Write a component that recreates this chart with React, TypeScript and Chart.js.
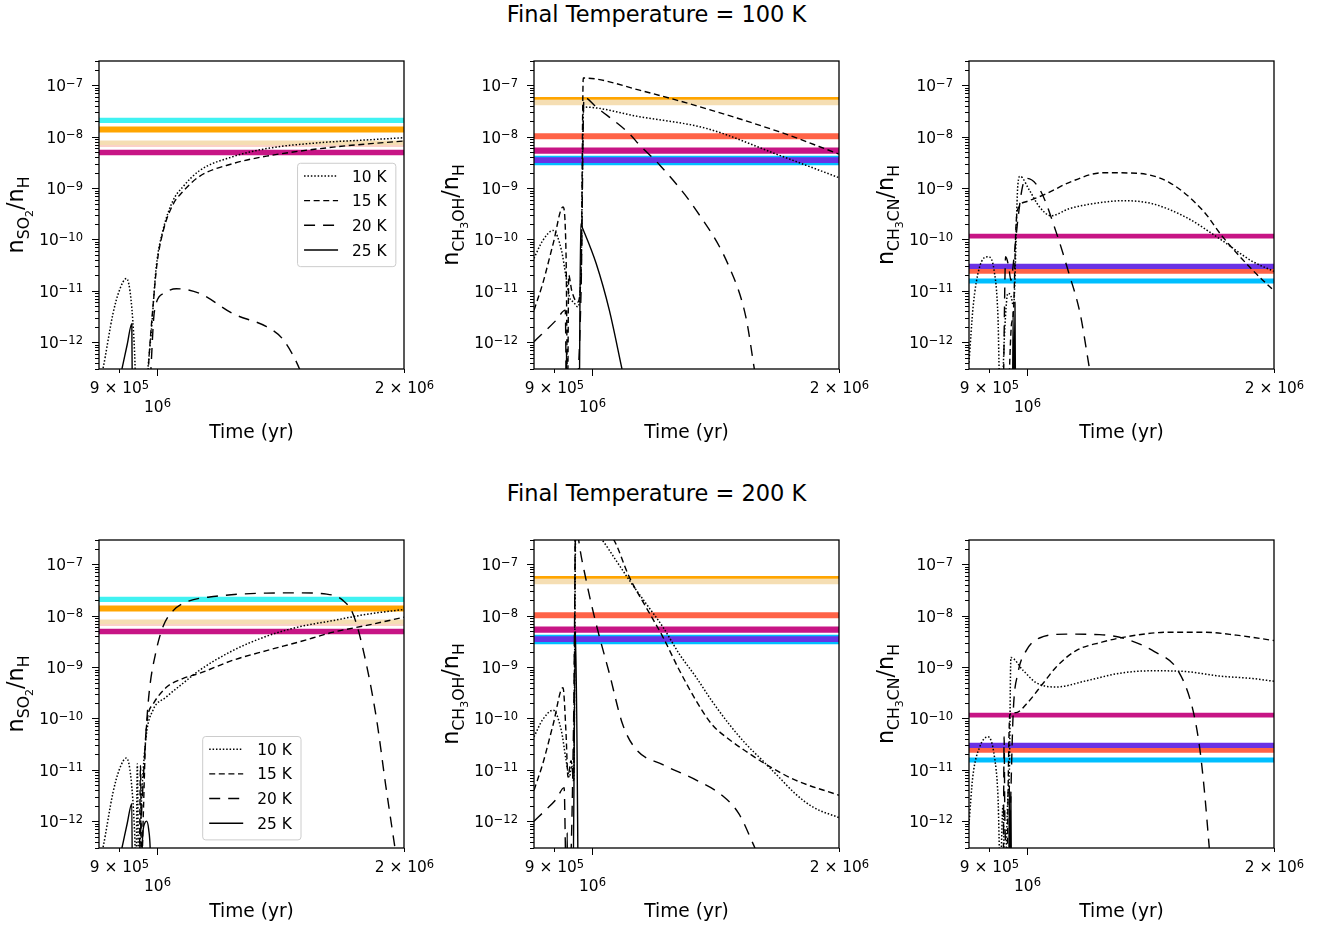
import React, { useEffect, useRef } from 'react';
import { Chart, registerables } from 'chart.js';

Chart.register(...registerables);

type Pt = [number, number];
type Seg = [string, number];

const FONT = "'DejaVu Sans', 'Liberation Sans', sans-serif";

// ---------- axes ----------
const TIME_RANGE = [8.5e5, 2e6];
const ABUNDANCE_RANGE = [3e-13, 3e-7];
const X_TICKS = [9e5, 1e6, 2e6];
const X_TICK_MANTISSA = ['9 × ', '', '2 × '];
const X_TICK_EXPONENT = ['5', '6', '6'];
const Y_TICKS = [1e-7, 1e-8, 1e-9, 1e-10, 1e-11, 1e-12];
const Y_TICK_EXPONENT = ['−7', '−8', '−9', '−10', '−11', '−12'];
const TEMPERATURES = ['10 K', '15 K', '20 K', '25 K'];
const FIGURE_TITLES = ['Final Temperature = 100 K', 'Final Temperature = 200 K'];
const X_TITLE = 'Time (yr)';

const SO2_LABEL: Seg[] = [['n', 0], ['SO', 1], ['2', 2], ['/n', 0], ['H', 1]];
const CH3OH_LABEL: Seg[] = [['n', 0], ['CH', 1], ['3', 2], ['OH', 1], ['/n', 0], ['H', 1]];
const CH3CN_LABEL: Seg[] = [['n', 0], ['CH', 1], ['3', 2], ['CN', 1], ['/n', 0], ['H', 1]];

// ---------- observed abundance bands ----------
const SO2_BAND_LOW = [1.85e-8, 1.22e-8, 6.9e-9, 6.5e-9, 4.4e-9];
const SO2_BAND_HIGH = [2.35e-8, 1.59e-8, 8.5e-9, 6.8e-9, 5.6e-9];
const CH3OH_BAND_LOW = [4.1e-8, 5.3e-8, 9.0e-9, 4.7e-9, 2.8e-9, 3.1e-9];
const CH3OH_BAND_HIGH = [5.3e-8, 6.0e-8, 1.18e-8, 6.2e-9, 4.3e-9, 4.0e-9];
const CH3CN_BAND_LOW = [1.04e-10, 1.39e-11, 2.14e-11, 2.67e-11];
const CH3CN_BAND_HIGH = [1.3e-10, 1.74e-11, 2.67e-11, 3.35e-11];

const SO2_BAND_COLORS = ['#40F2F2', '#FFA500', '#F5DEB3', '#F8A391', '#C71585'];
const CH3OH_BAND_COLORS = ['#F5DEB3', '#FFA500', '#FF6347', '#C71585', '#00BFFF', '#6A32E4'];
const CH3CN_BAND_COLORS = ['#C71585', '#00BFFF', '#FF6347', '#6A32E4'];

// ---------- model curves: [time (yr), abundance] ----------
// Final temperature 100 K
const SO2_T100_10K: Pt[] = [[8.5e5, 1.5e-13], [8.59e5, 2.9e-13], [8.84e5, 3.6e-12], [9.0e5, 1.02e-11], [9.18e5, 1.74e-11], [9.3e5, 6.6e-12], [9.39e5, 6.9e-13], [9.43e5, 1e-13], [9.6e5, 1e-14], [9.75e5, 3e-13], [9.84e5, 1.5e-12], [9.98e5, 2.9e-11], [1.017e6, 1.5e-10], [1.046e6, 5.7e-10], [1.075e6, 1.05e-9], [1.127e6, 2.2e-9], [1.237e6, 4.1e-9], [1.36e6, 5.9e-9], [1.563e6, 7.6e-9], [1.8e6, 8.7e-9], [2e6, 9.6e-9]];
const SO2_T100_15K: Pt[] = [[9.72e5, 1e-13], [9.8e5, 8e-13], [9.9e5, 6e-12], [1.0e6, 3.3e-11], [1.017e6, 1.4e-10], [1.046e6, 4.8e-10], [1.075e6, 8.5e-10], [1.127e6, 1.7e-9], [1.237e6, 3.0e-9], [1.36e6, 4.2e-9], [1.64e6, 6.3e-9], [2e6, 8.3e-9]];
const SO2_T100_20K: Pt[] = [[9.82e5, 2e-13], [9.93e5, 4e-12], [1.02e6, 9e-12], [1.056e6, 1.1e-11], [1.127e6, 8.9e-12], [1.237e6, 3.6e-12], [1.36e6, 2.0e-12], [1.42e6, 1.2e-12], [1.47e6, 5e-13], [1.52e6, 1.5e-13]];
const SO2_T100_25K: Pt[] = [[8.98e5, 1.5e-13], [9.1e5, 4e-13], [9.2e5, 9e-13], [9.32e5, 2.3e-12], [9.34e5, 1e-14]];

const CH3OH_T100_10K: Pt[] = [[8.5e5, 4.3e-11], [8.71e5, 9.5e-11], [8.97e5, 1.5e-10], [9.18e5, 6.2e-11], [9.3e5, 1.86e-11], [9.39e5, 7.6e-12], [9.5e5, 6e-12], [9.61e5, 4.9e-12], [9.7e5, 3e-11], [9.77e5, 3.8e-8], [1.143e6, 2.46e-8], [1.378e6, 1.46e-8], [1.69e6, 4.4e-9], [2e6, 1.6e-9]];
const CH3OH_T100_15K: Pt[] = [[8.5e5, 4.2e-12], [8.71e5, 1.38e-11], [8.97e5, 8.3e-11], [9.22e5, 4.3e-10], [9.3e5, 5e-11], [9.34e5, 1e-13], [9.37e5, 2e-11], [9.45e5, 1e-11], [9.6e5, 6e-12], [9.7e5, 2e-11], [9.76e5, 1.4e-7], [1.143e6, 8.1e-8], [1.69e6, 1.26e-8], [2e6, 4.6e-9]];
const CH3OH_T100_20K: Pt[] = [[8.5e5, 1.02e-12], [9.05e5, 2.7e-12], [9.28e5, 4.2e-12], [9.31e5, 1e-13], [9.55e5, 1e-13], [9.7e5, 1e-11], [9.78e5, 5.9e-8], [1.012e6, 3.8e-8], [1.111e6, 1.15e-8], [1.143e6, 6.9e-9], [1.21e6, 2.8e-9], [1.34e6, 3.7e-10], [1.47e6, 2.9e-11], [1.54e6, 3.1e-12], [1.58e6, 2.5e-13]];
const CH3OH_T100_25K: Pt[] = [[9.29e5, 1e-14], [9.31e5, 7e-13], [9.33e5, 1e-14], [9.64e5, 1e-14], [9.69e5, 2e-10], [9.75e5, 1.6e-10], [1.012e6, 3.4e-11], [1.05e6, 4.2e-12], [1.088e6, 3e-13]];

const CH3CN_T100_10K: Pt[] = [[8.5e5, 4e-13], [8.6e5, 5e-12], [8.75e5, 2.8e-11], [8.97e5, 4.6e-11], [9.12e5, 2.5e-11], [9.22e5, 3e-12], [9.27e5, 1e-13], [9.33e5, 1e-13], [9.38e5, 1e-12], [9.48e5, 8.9e-12], [9.56e5, 8e-12], [9.63e5, 5e-12], [9.75e5, 1.2e-9], [9.81e5, 1.7e-9], [1.007e6, 9.1e-10], [1.036e6, 4.3e-10], [1.07e6, 2.9e-10], [1.127e6, 4.0e-10], [1.237e6, 5.3e-10], [1.309e6, 5.7e-10], [1.42e6, 5.0e-10], [1.563e6, 2.7e-10], [1.716e6, 1.04e-10], [1.885e6, 3.7e-11], [2e6, 2.4e-11]];
const CH3CN_T100_15K: Pt[] = [[9.5e5, 1e-13], [9.57e5, 2e-12], [9.63e5, 4e-12], [9.7e5, 2e-10], [9.78e5, 4.3e-10], [1.0e6, 5.5e-10], [1.056e6, 7.8e-10], [1.127e6, 1.3e-9], [1.237e6, 2.0e-9], [1.36e6, 1.95e-9], [1.49e6, 1.3e-9], [1.64e6, 3.6e-10], [1.73e6, 1.15e-10], [1.885e6, 2.5e-11], [2e6, 1.0e-11]];
const CH3CN_T100_20K: Pt[] = [[9.36e5, 1e-13], [9.42e5, 4.6e-11], [9.5e5, 3e-11], [9.56e5, 1.6e-11], [9.65e5, 5e-11], [9.75e5, 2.5e-10], [9.88e5, 1.1e-9], [1.0e6, 1.55e-9], [1.038e6, 9.1e-10], [1.087e6, 1.3e-10], [1.124e6, 2.3e-11], [1.161e6, 3.6e-12], [1.192e6, 3e-13]];
const CH3CN_T100_25K: Pt[] = [[9.6e5, 1e-14], [9.62e5, 4e-12], [9.64e5, 1e-14], [9.67e5, 6e-12], [9.69e5, 1e-14]];

// Final temperature 200 K
const SO2_T200_10K: Pt[] = [[8.5e5, 1.5e-13], [8.59e5, 2.9e-13], [8.84e5, 3.6e-12], [9.0e5, 1.02e-11], [9.18e5, 1.7e-11], [9.3e5, 6.6e-12], [9.39e5, 6.9e-13], [9.43e5, 1e-13], [9.465e5, 1.3e-11], [9.5e5, 1e-13], [9.58e5, 3e-12], [9.7e5, 4.4e-11], [9.89e5, 1.45e-10], [1.026e6, 2.6e-10], [1.075e6, 4.8e-10], [1.127e6, 8.7e-10], [1.237e6, 2.1e-9], [1.36e6, 4.0e-9], [1.49e6, 6.1e-9], [1.64e6, 8.1e-9], [1.8e6, 1.07e-8], [2e6, 1.33e-8]];
const SO2_T200_15K: Pt[] = [[9.52e5, 1e-13], [9.55e5, 1.2e-11], [9.58e5, 1e-13], [9.62e5, 1e-12], [9.7e5, 5.7e-11], [9.89e5, 1.9e-10], [1.026e6, 4.0e-10], [1.075e6, 6.0e-10], [1.127e6, 7.6e-10], [1.237e6, 1.36e-9], [1.36e6, 2.1e-9], [1.49e6, 3.1e-9], [1.64e6, 4.8e-9], [1.8e6, 6.5e-9], [2e6, 9.4e-9]];
const SO2_T200_20K: Pt[] = [[9.5e5, 1e-13], [9.6e5, 3e-12], [9.7e5, 5.7e-11], [9.79e5, 3.5e-10], [9.98e5, 2.1e-9], [1.017e6, 6.1e-9], [1.046e6, 1.25e-8], [1.085e6, 1.85e-8], [1.18e6, 2.4e-8], [1.36e6, 2.77e-8], [1.49e6, 2.8e-8], [1.61e6, 2.65e-8], [1.685e6, 2.0e-8], [1.733e6, 1.1e-8], [1.78e6, 2.5e-9], [1.85e6, 1.07e-10], [1.9e6, 5e-12], [1.95e6, 3e-13]];
const SO2_T200_25K: Pt[] = [[8.98e5, 1.5e-13], [9.1e5, 4e-13], [9.2e5, 9e-13], [9.32e5, 2.2e-12], [9.34e5, 1e-14], [9.57e5, 1e-14], [9.6e5, 4e-13], [9.66e5, 9e-13], [9.71e5, 1.0e-12], [9.77e5, 7e-13], [9.82e5, 2e-13], [9.85e5, 1e-14]];

const CH3OH_T200_10K: Pt[] = [[8.5e5, 4.4e-11], [8.71e5, 9.5e-11], [8.97e5, 1.45e-10], [9.18e5, 5.7e-11], [9.3e5, 1.55e-11], [9.39e5, 7.2e-12], [9.45e5, 1.2e-11], [9.5e5, 6e-12], [9.56e5, 1e-6], [1.026e6, 3.2e-7], [1.07e6, 1.2e-7], [1.111e6, 4.9e-8], [1.164e6, 1.73e-8], [1.22e6, 6.1e-9], [1.278e6, 1.8e-9], [1.34e6, 6.3e-10], [1.4e6, 2.2e-10], [1.47e6, 7.7e-11], [1.54e6, 3.2e-11], [1.615e6, 1.5e-11], [1.69e6, 7.2e-12], [1.77e6, 3.4e-12], [1.86e6, 1.87e-12], [2e6, 1.17e-12]];
const CH3OH_T200_15K: Pt[] = [[8.5e5, 4.0e-12], [8.71e5, 1.3e-11], [8.97e5, 7.7e-11], [9.22e5, 4.0e-10], [9.3e5, 5e-11], [9.35e5, 7.2e-12], [9.43e5, 1.5e-11], [9.5e5, 8e-12], [9.55e5, 1e-6], [1.061e6, 3.2e-7], [1.111e6, 5.6e-8], [1.164e6, 1.47e-8], [1.22e6, 3.9e-9], [1.278e6, 8.7e-10], [1.34e6, 2.2e-10], [1.4e6, 7.7e-11], [1.47e6, 3.9e-11], [1.54e6, 2.3e-11], [1.645e6, 1.17e-11], [1.77e6, 6.3e-12], [2e6, 3.2e-12]];
const CH3OH_T200_20K: Pt[] = [[8.5e5, 1.0e-12], [8.8e5, 1.7e-12], [9.05e5, 2.7e-12], [9.25e5, 4.5e-12], [9.3e5, 1e-13], [9.4e5, 1e-13], [9.5e5, 1e-10], [9.56e5, 1e-6], [9.63e5, 3.2e-7], [9.84e5, 4.9e-8], [1.012e6, 6.9e-9], [1.05e6, 7.6e-10], [1.09e6, 7.7e-11], [1.132e6, 2.5e-11], [1.22e6, 1.26e-11], [1.34e6, 6.3e-12], [1.44e6, 3.2e-12], [1.51e6, 1.4e-12], [1.58e6, 3e-13]];
const CH3OH_T200_25K: Pt[] = [[9.31e5, 1e-14], [9.33e5, 6e-13], [9.35e5, 1e-14], [9.47e5, 1e-14], [9.55e5, 5e-9], [9.63e5, 1e-14]];

const CH3CN_T200_10K: Pt[] = [[8.5e5, 8.9e-13], [8.59e5, 7.2e-12], [8.76e5, 2.8e-11], [8.97e5, 4.4e-11], [9.13e5, 1.77e-11], [9.22e5, 3.0e-12], [9.28e5, 1e-13], [9.35e5, 2e-12], [9.4e5, 1e-13], [9.48e5, 3e-12], [9.52e5, 1e-11], [9.56e5, 1.54e-9], [9.89e5, 8.7e-10], [1.026e6, 5.0e-10], [1.085e6, 4.1e-10], [1.18e6, 5.4e-10], [1.297e6, 7.6e-10], [1.42e6, 8.5e-10], [1.563e6, 8.2e-10], [1.716e6, 6.7e-10], [1.885e6, 6.0e-10], [2e6, 5.3e-10]];
const CH3CN_T200_15K: Pt[] = [[9.46e5, 1e-13], [9.5e5, 2e-11], [9.53e5, 1.2e-10], [9.7e5, 1.3e-10], [9.98e5, 1.9e-10], [1.046e6, 4.8e-10], [1.085e6, 1.0e-9], [1.148e6, 2.1e-9], [1.237e6, 3.1e-9], [1.32e6, 3.9e-9], [1.49e6, 4.8e-9], [1.64e6, 4.8e-9], [1.8e6, 4.2e-9], [2e6, 3.3e-9]];
const CH3CN_T200_20K: Pt[] = [[9.36e5, 1e-13], [9.38e5, 4.4e-11], [9.4e5, 1e-12], [9.5e5, 1e-13], [9.55e5, 2e-12], [9.62e5, 1.2e-10], [9.75e5, 7.6e-10], [9.98e5, 2.1e-9], [1.036e6, 3.7e-9], [1.117e6, 4.4e-9], [1.226e6, 4.3e-9], [1.315e6, 3.6e-9], [1.43e6, 2.0e-9], [1.527e6, 8.7e-10], [1.59e6, 1.66e-10], [1.623e6, 2.8e-11], [1.645e6, 4.0e-12], [1.668e6, 3e-13]];
const CH3CN_T200_25K: Pt[] = [[9.5e5, 1e-14], [9.52e5, 5e-12], [9.54e5, 1e-14], [9.56e5, 3e-12], [9.58e5, 1e-14]];

// ---------- styles / layout ----------
const DASHES: number[][] = [[1.5, 1.9], [6, 3.6], [11, 8], []];
const LINE_WIDTHS = [1.5, 1.4, 1.4, 1.4];
const PLOT_W = 305;
const PLOT_H = 308;
const PAD_LEFT = 99;
const PAD_TOP = 31;
const CANVAS_W = 458;
const CANVAS_H = 415;
const TICK_FONT = 15.4;
const EXP_FONT = 11.5;
const LABEL_SIZES = [22.4, 15.7, 11];
const LABEL_DROPS = [0, 6.3, 9.8];

type LegendPos = { fx: number; fy: number } | null;

function drawDecor(chart: any, ylabel: Seg[], legend: LegendPos) {
  const { ctx, chartArea: a } = chart;
  const xs = chart.scales.x;
  const ys = chart.scales.y;
  ctx.save();
  ctx.setLineDash([]);
  ctx.strokeStyle = '#000';
  ctx.fillStyle = '#000';

  // frame
  ctx.lineWidth = 1.3;
  ctx.strokeRect(a.left, a.top, a.right - a.left, a.bottom - a.top);

  // y ticks (major + minor)
  ctx.lineWidth = 1;
  for (let e = -13; e <= -6; e++) {
    for (let k = 1; k < 10; k++) {
      const v = k * Math.pow(10, e);
      if (v < ys.min * 0.9999 || v > ys.max * 1.0001) continue;
      const py = Math.round(ys.getPixelForValue(v)) + 0.5;
      const len = k === 1 ? 7 : 4;
      ctx.beginPath();
      ctx.moveTo(a.left - len, py);
      ctx.lineTo(a.left, py);
      ctx.stroke();
    }
  }
  // y tick labels
  ctx.textAlign = 'left';
  ctx.textBaseline = 'alphabetic';
  Y_TICKS.forEach((v, i) => {
    const py = ys.getPixelForValue(v);
    ctx.font = `${TICK_FONT}px ${FONT}`;
    const wb = ctx.measureText('10').width;
    ctx.font = `${EXP_FONT}px ${FONT}`;
    const we = ctx.measureText(Y_TICK_EXPONENT[i]).width;
    const x0 = a.left - 16 - wb - we;
    ctx.font = `${TICK_FONT}px ${FONT}`;
    ctx.fillText('10', x0, py + 5.7);
    ctx.font = `${EXP_FONT}px ${FONT}`;
    ctx.fillText(Y_TICK_EXPONENT[i], x0 + wb, py + 1.4);
  });

  // x ticks and labels
  X_TICKS.forEach((v, i) => {
    const px = Math.round(xs.getPixelForValue(v)) + 0.5;
    const major = X_TICK_MANTISSA[i] === '';
    ctx.lineWidth = 1;
    ctx.beginPath();
    ctx.moveTo(px, a.bottom);
    ctx.lineTo(px, a.bottom + (major ? 7 : 4));
    ctx.stroke();
    const base = X_TICK_MANTISSA[i] + '10';
    ctx.font = `${TICK_FONT}px ${FONT}`;
    const wb = ctx.measureText(base).width;
    ctx.font = `${EXP_FONT}px ${FONT}`;
    const we = ctx.measureText(X_TICK_EXPONENT[i]).width;
    const x0 = px - (wb + we) / 2;
    const bl = a.bottom + (major ? 42.7 : 24.3);
    ctx.font = `${TICK_FONT}px ${FONT}`;
    ctx.fillText(base, x0, bl);
    ctx.font = `${EXP_FONT}px ${FONT}`;
    ctx.fillText(X_TICK_EXPONENT[i], x0 + wb, bl - 4.6);
  });

  // x title
  ctx.font = `18.6px ${FONT}`;
  ctx.textAlign = 'center';
  ctx.fillText(X_TITLE, (a.left + a.right) / 2, a.bottom + 69);

  // y title (rotated, with subscripts)
  ctx.textAlign = 'left';
  let total = 0;
  const widths = ylabel.map(([t, lvl]) => {
    ctx.font = `${LABEL_SIZES[lvl]}px ${FONT}`;
    const w = ctx.measureText(t).width;
    total += w;
    return w;
  });
  ctx.save();
  ctx.translate(a.left - 76, (a.top + a.bottom) / 2);
  ctx.rotate(-Math.PI / 2);
  let cx = -total / 2;
  ylabel.forEach(([t, lvl], i) => {
    ctx.font = `${LABEL_SIZES[lvl]}px ${FONT}`;
    ctx.fillText(t, cx, LABEL_DROPS[lvl]);
    cx += widths[i];
  });
  ctx.restore();

  // legend
  if (legend) {
    const bx = a.left + legend.fx * (a.right - a.left);
    const by = a.top + legend.fy * (a.bottom - a.top);
    const bw = 98.3;
    const bh = 103.4;
    ctx.beginPath();
    if (ctx.roundRect) ctx.roundRect(bx, by, bw, bh, 3);
    else ctx.rect(bx, by, bw, bh);
    ctx.fillStyle = 'rgba(255,255,255,0.8)';
    ctx.fill();
    ctx.strokeStyle = '#cccccc';
    ctx.lineWidth = 1;
    ctx.stroke();
    ctx.strokeStyle = '#000';
    ctx.fillStyle = '#000';
    TEMPERATURES.forEach((label, i) => {
      const cy = by + 12.7 + i * 24.67;
      ctx.setLineDash(DASHES[i]);
      ctx.lineWidth = LINE_WIDTHS[i];
      ctx.beginPath();
      ctx.moveTo(bx + 6.5, cy);
      ctx.lineTo(bx + 40.5, cy);
      ctx.stroke();
      ctx.setLineDash([]);
      ctx.font = `${TICK_FONT}px ${FONT}`;
      ctx.textAlign = 'left';
      ctx.fillText(label, bx + 54.5, cy + 5.6);
    });
  }
  ctx.restore();
}

type PanelProps = {
  curves: Pt[][];
  bandLow: number[];
  bandHigh: number[];
  bandColors: string[];
  ylabel: Seg[];
  legend: LegendPos;
  plotLeft: number;
  plotTop: number;
};

function Panel(props: PanelProps) {
  const ref = useRef<HTMLCanvasElement>(null);
  useEffect(() => {
    const canvas = ref.current;
    if (!canvas) return;
    const datasets: any[] = [];
    props.curves.forEach((pts, i) => {
      datasets.push({
        label: TEMPERATURES[i],
        data: pts.map(([x, y]) => ({ x, y })),
        borderColor: '#000',
        borderWidth: LINE_WIDTHS[i],
        borderDash: DASHES[i],
        borderJoinStyle: 'round',
        pointRadius: 0,
        fill: false,
        cubicInterpolationMode: 'monotone',
        order: 0,
      });
    });
    props.bandLow.forEach((lo, i) => {
      datasets.push({
        label: 'band' + i,
        data: TIME_RANGE.map((x) => ({ x, y: props.bandHigh[i] })),
        borderColor: 'rgba(0,0,0,0)',
        borderWidth: 0,
        pointRadius: 0,
        backgroundColor: props.bandColors[i],
        fill: { value: lo },
        order: 100 - i,
      });
    });
    const decor = {
      id: 'decor',
      afterDraw(chart: any) {
        drawDecor(chart, props.ylabel, props.legend);
      },
    };
    const chart = new Chart(canvas, {
      type: 'line',
      data: { datasets },
      options: {
        animation: false,
        responsive: false,
        events: [],
        layout: {
          padding: {
            left: PAD_LEFT,
            top: PAD_TOP,
            right: CANVAS_W - PAD_LEFT - PLOT_W,
            bottom: CANVAS_H - PAD_TOP - PLOT_H,
          },
        },
        scales: {
          x: { type: 'logarithmic', min: TIME_RANGE[0], max: TIME_RANGE[1], display: false },
          y: { type: 'logarithmic', min: ABUNDANCE_RANGE[0], max: ABUNDANCE_RANGE[1], display: false },
        },
        plugins: {
          legend: { display: false },
          tooltip: { enabled: false },
          title: { display: false },
        },
      } as any,
      plugins: [decor],
    });
    return () => chart.destroy();
  }, []);
  return (
    <canvas
      ref={ref}
      width={CANVAS_W}
      height={CANVAS_H}
      style={{
        position: 'absolute',
        left: props.plotLeft - PAD_LEFT,
        top: props.plotTop - PAD_TOP,
        width: CANVAS_W,
        height: CANVAS_H,
      }}
    />
  );
}

const COLUMN_LEFT = [99, 534, 969];
const ROW_TOP = [61, 540];
const TITLE_TOP = [3, 482];

export default function App() {
  const rows = [
    [
      { curves: [SO2_T100_10K, SO2_T100_15K, SO2_T100_20K, SO2_T100_25K], bandLow: SO2_BAND_LOW, bandHigh: SO2_BAND_HIGH, bandColors: SO2_BAND_COLORS, ylabel: SO2_LABEL, legend: { fx: 0.651, fy: 0.332 } },
      { curves: [CH3OH_T100_10K, CH3OH_T100_15K, CH3OH_T100_20K, CH3OH_T100_25K], bandLow: CH3OH_BAND_LOW, bandHigh: CH3OH_BAND_HIGH, bandColors: CH3OH_BAND_COLORS, ylabel: CH3OH_LABEL, legend: null },
      { curves: [CH3CN_T100_10K, CH3CN_T100_15K, CH3CN_T100_20K, CH3CN_T100_25K], bandLow: CH3CN_BAND_LOW, bandHigh: CH3CN_BAND_HIGH, bandColors: CH3CN_BAND_COLORS, ylabel: CH3CN_LABEL, legend: null },
    ],
    [
      { curves: [SO2_T200_10K, SO2_T200_15K, SO2_T200_20K, SO2_T200_25K], bandLow: SO2_BAND_LOW, bandHigh: SO2_BAND_HIGH, bandColors: SO2_BAND_COLORS, ylabel: SO2_LABEL, legend: { fx: 0.34, fy: 0.638 } },
      { curves: [CH3OH_T200_10K, CH3OH_T200_15K, CH3OH_T200_20K, CH3OH_T200_25K], bandLow: CH3OH_BAND_LOW, bandHigh: CH3OH_BAND_HIGH, bandColors: CH3OH_BAND_COLORS, ylabel: CH3OH_LABEL, legend: null },
      { curves: [CH3CN_T200_10K, CH3CN_T200_15K, CH3CN_T200_20K, CH3CN_T200_25K], bandLow: CH3CN_BAND_LOW, bandHigh: CH3CN_BAND_HIGH, bandColors: CH3CN_BAND_COLORS, ylabel: CH3CN_LABEL, legend: null },
    ],
  ];
  return (
    <div
      style={{
        position: 'absolute',
        left: 0,
        top: 0,
        width: 1328,
        height: 926,
        overflow: 'hidden',
        background: '#fff',
        fontFamily: FONT,
      }}
    >
      {FIGURE_TITLES.map((t, r) => (
        <div
          key={'title' + r}
          style={{
            position: 'absolute',
            left: 0,
            width: 1313,
            top: TITLE_TOP[r],
            textAlign: 'center',
            fontSize: 22.5,
            lineHeight: '22.5px',
            color: '#000',
            whiteSpace: 'nowrap',
          }}
        >
          {t}
        </div>
      ))}
      {rows.map((row, r) =>
        row.map((p, c) => (
          <Panel key={r + '-' + c} {...(p as any)} plotLeft={COLUMN_LEFT[c]} plotTop={ROW_TOP[r]} />
        ))
      )}
    </div>
  );
}
